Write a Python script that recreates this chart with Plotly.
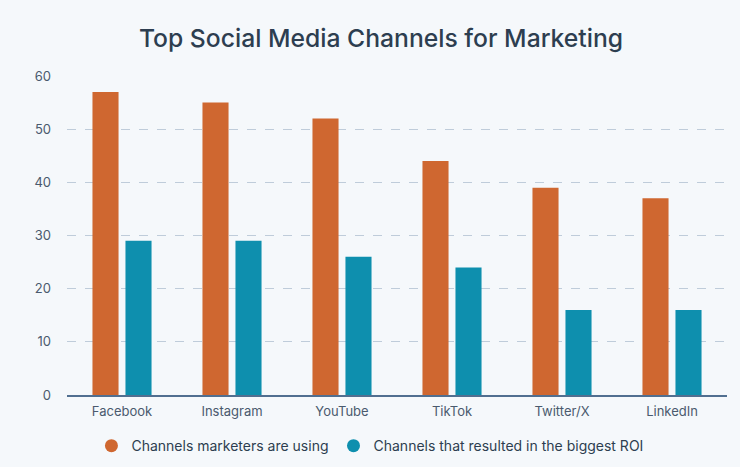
import plotly.graph_objects as go

categories = ["Facebook", "Instagram", "YouTube", "TikTok", "Twitter/X", "LinkedIn"]
using = [57, 55, 52, 44, 39, 37]
roi = [29, 29, 26, 24, 16, 16]
series_names = ["Channels marketers are using", "Channels that resulted in the biggest ROI"]
colors = ["#CF6730", "#0E8FAE"]

FONT = "Inter, Lato, sans-serif"

fig = go.Figure()
for vals, name, col in zip([using, roi], series_names, colors):
    fig.add_bar(x=categories, y=vals, name=name, marker_color=col, marker_line_width=0,
                showlegend=False, legendgroup=name)
for name, col in zip(series_names, colors):
    fig.add_scatter(x=[None], y=[None], mode="markers", name=name, legendgroup=name,
                    marker=dict(symbol="circle", size=13, color=col))

fig.update_layout(
    width=740, height=467,
    paper_bgcolor="#F5F8FB", plot_bgcolor="#F5F8FB",
    font=dict(family=FONT, color="#4A5A6E", size=13),
    title=dict(text="Top Social Media Channels for Marketing", x=381 / 740, xanchor="center",
               y=1 - 38 / 467, yref="container", yanchor="middle", automargin=False,
               font=dict(size=24.7, color="#2D3E50", family=FONT, weight=500)),
    margin=dict(l=67, r=13, t=76, b=72, autoexpand=False),
    barmode="group", bargap=0.4, bargroupgap=0.21,
    showlegend=True,
    legend=dict(orientation="h", x=0.459, xanchor="center", y=-0.16, yanchor="middle",
                font=dict(size=14, color="#2D3E50", family=FONT), itemwidth=30,
                bgcolor="rgba(0,0,0,0)"),
    xaxis=dict(showgrid=False, showline=True, linecolor="#516F90", linewidth=2,
               ticks="", ticklabelstandoff=3,
               tickfont=dict(size=13, color="#4A5A6E", family=FONT)),
    yaxis=dict(range=[0, 60], dtick=10, showgrid=True, gridcolor="#BFCCDA", griddash="dash",
               gridwidth=1, zeroline=False, ticks="", ticklabelstandoff=15,
               tickfont=dict(size=13, color="#4A5A6E", family=FONT)),
)
fig.write_html("out.html", config={"displayModeBar": False},
               post_script="document.body.style.margin='0';document.body.style.background='#F5F8FB';")
